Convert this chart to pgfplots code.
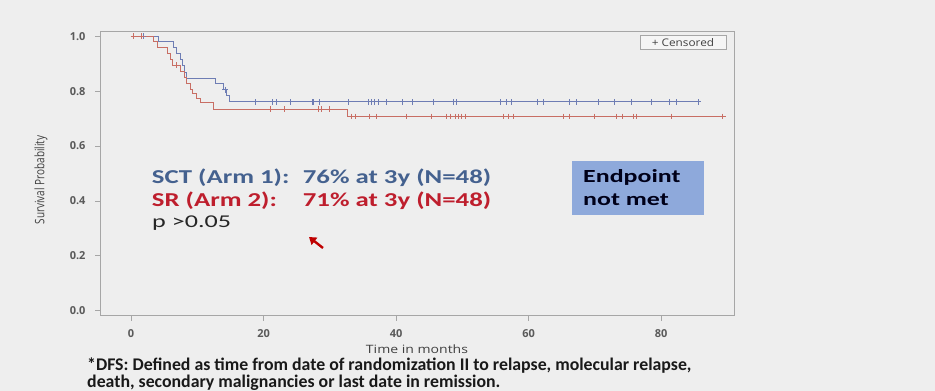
\documentclass[border=0pt]{standalone}
\usepackage{fontspec}
\setmainfont{Open Sans}
\newfontfamily\carlito{Carlito}
\usepackage{pgfplots}
\pgfplotsset{compat=1.18}
\usetikzlibrary{arrows.meta}
\definecolor{bg}{HTML}{EEEEEE}
\definecolor{frame}{HTML}{A6A6A6}
\definecolor{kmblue}{HTML}{6E7DB4}
\definecolor{kmred}{HTML}{C86E64}
\definecolor{txtblue}{HTML}{44618F}
\definecolor{txtred}{HTML}{BE1E2D}
\definecolor{boxblue}{HTML}{8EA9DB}
\definecolor{ticklab}{HTML}{5A5A5A}
\definecolor{labcol}{HTML}{404040}
\begin{document}
\begin{tikzpicture}
\path[use as bounding box, fill=bg] (0pt,0pt) rectangle (935pt,-391pt);
\begin{axis}[
  at={(100pt,-315.7pt)}, anchor=south west,
  scale only axis, width=634pt, height=284.7pt,
  xmin=-4.7, xmax=91, ymin=-0.018, ymax=1.019,
  axis line style={frame, line width=0.8pt},
  tick style={frame, line width=0.8pt},
  tick align=outside, tick pos=left, major tick length=5pt,
  xtick={0,20,40,60,80}, ytick={0,0.2,0.4,0.6,0.8,1.0},
  /pgf/number format/assume math mode=true,
  yticklabel style={/pgf/number format/.cd, fixed, fixed zerofill, precision=1, /tikz/.cd,
     font=\fontsize{11}{13}\selectfont\bfseries, color=ticklab, xshift=-6pt},
  xticklabel style={font=\fontsize{11}{13}\selectfont\bfseries, color=ticklab, yshift=-5pt},
  axis background/.style={fill=bg},
]
% Kaplan-Meier curves
\addplot[const plot mark left, kmblue, line width=1pt] coordinates {
 (0,1.000) (4.1,0.979) (6.4,0.958) (6.9,0.937) (7.4,0.916) (7.7,0.895) (8.1,0.868)
 (8.4,0.846) (12.7,0.826) (13.9,0.805) (14.4,0.784) (14.8,0.761) (85.6,0.761)};
\addplot[const plot mark left, kmred, line width=1pt] coordinates {
 (0,1.000) (3.4,0.979) (4.0,0.958) (5.5,0.937) (5.9,0.916) (6.3,0.895) (7.4,0.873)
 (8.1,0.851) (8.4,0.829) (8.9,0.806) (9.2,0.790) (9.9,0.774) (10.4,0.757) (12.4,0.734)
 (32.6,0.708) (89.3,0.708)};
% censored marks
\addplot[only marks, mark=+, mark size=2.8pt, kmblue, line width=0.9pt] coordinates {
 (1.8,1.0) (14.2,0.805)
 (18.8,0.761) (21.3,0.761) (22.0,0.761) (24.1,0.761) (27.3,0.761) (27.5,0.761) (28.5,0.761)
 (32.8,0.761) (35.8,0.761) (36.3,0.761) (36.8,0.761) (37.3,0.761) (38.5,0.761) (41.0,0.761)
 (42.5,0.761) (45.7,0.761) (48.6,0.761) (49.1,0.761) (55.7,0.761) (56.7,0.761) (57.4,0.761)
 (61.4,0.761) (62.2,0.761) (66.1,0.761) (67.2,0.761) (70.5,0.761) (73.0,0.761) (75.5,0.761)
 (78.5,0.761) (81.3,0.761) (82.3,0.761) (85.6,0.761)};
\addplot[only marks, mark=+, mark size=2.8pt, kmred, line width=0.9pt] coordinates {
 (0.35,1.0) (1.6,1.0) (6.9,0.895)
 (21.1,0.734) (23.2,0.734) (28.2,0.734) (28.7,0.734) (30.0,0.734)
 (33.3,0.708) (33.8,0.708) (35.9,0.708) (37.1,0.708) (41.5,0.708) (45.4,0.708) (47.6,0.708)
 (48.2,0.708) (48.9,0.708) (49.4,0.708) (49.9,0.708) (50.4,0.708) (56.2,0.708) (56.9,0.708)
 (57.7,0.708) (65.2,0.708) (66.1,0.708) (70.0,0.708) (73.3,0.708) (74.2,0.708) (75.8,0.708)
 (76.2,0.708) (81.6,0.708) (89.3,0.708)};
\end{axis}
% axis labels
\node[anchor=base, inner sep=0pt, text=labcol] at (417pt,-353pt)
  {\scalebox{1.22}[1]{\fontsize{11.5}{13}\selectfont Time in months}};
\node[rotate=90, anchor=center, inner sep=0pt, text=labcol] at (41pt,-180pt)
  {\scalebox{1}[1.3]{\fontsize{10}{12}\selectfont Survival Probability}};
% censored legend
\node[draw=frame, fill=white!40!bg, line width=0.7pt, minimum width=86pt, minimum height=14.3pt,
  inner sep=0pt, text=labcol] at (683pt,-42.2pt)
  {\scalebox{1.12}[1]{\fontsize{10.5}{12}\selectfont + Censored}};
% slide annotations
\node[anchor=base west, inner sep=0pt, text=txtblue] at (151.7pt,-183.3pt)
  {\scalebox{1.36}[1]{\carlito\bfseries\fontsize{19.7}{22}\selectfont SCT (Arm 1):}};
\node[anchor=base west, inner sep=0pt, text=txtblue] at (302.7pt,-183.3pt)
  {\scalebox{1.36}[1]{\carlito\bfseries\fontsize{19.7}{22}\selectfont 76\% at 3y (N=48)}};
\node[anchor=base west, inner sep=0pt, text=txtred] at (151.7pt,-206pt)
  {\scalebox{1.36}[1]{\carlito\bfseries\fontsize{19.7}{22}\selectfont SR (Arm 2):}};
\node[anchor=base west, inner sep=0pt, text=txtred] at (302.7pt,-206pt)
  {\scalebox{1.36}[1]{\carlito\bfseries\fontsize{19.7}{22}\selectfont 71\% at 3y (N=48)}};
\node[anchor=base west, inner sep=0pt, text=black!85] at (152pt,-227.5pt)
  {\scalebox{1.45}[1]{\carlito\fontsize{18}{22}\selectfont p >0.05}};
% endpoint box
\fill[boxblue] (571.7pt,-161pt) rectangle (704.3pt,-215pt);
\node[anchor=base west, inner sep=0pt, text=black!90!blue] at (583pt,-182.3pt)
  {\scalebox{1.4}[1]{\carlito\bfseries\fontsize{18.5}{22}\selectfont Endpoint}};
\node[anchor=base west, inner sep=0pt, text=black!90!blue] at (583pt,-205pt)
  {\scalebox{1.4}[1]{\carlito\bfseries\fontsize{18.5}{22}\selectfont not met}};
% cursor
\draw[line width=2.4pt, color=red!75!black, -{Triangle[length=7pt,width=9pt]}] (323pt,-248pt) -- (309pt,-237pt);
% footnote
\node[anchor=base west, inner sep=0pt, text=black!90] at (87pt,-370.5pt)
  {\carlito\bfseries\fontsize{17.8}{20}\selectfont *DFS: Defined as time from date of randomization II to relapse, molecular relapse,};
\node[anchor=base west, inner sep=0pt, text=black!90] at (87pt,-387pt)
  {\carlito\bfseries\fontsize{17.8}{20}\selectfont death, secondary malignancies or last date in remission.};
\end{tikzpicture}
\end{document}
